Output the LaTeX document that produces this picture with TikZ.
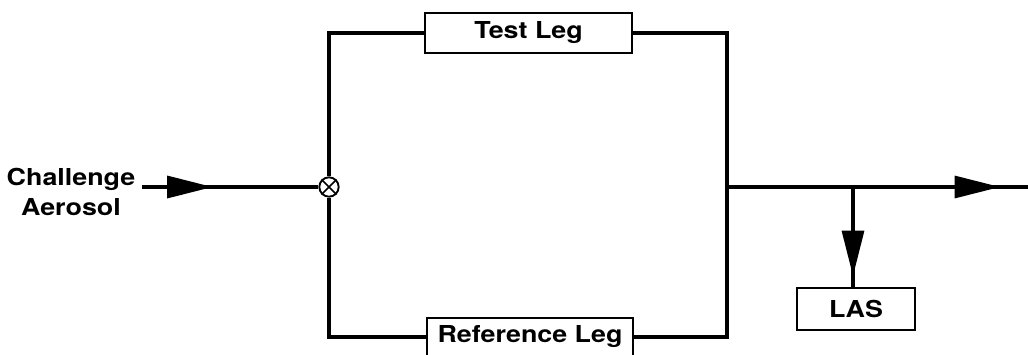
\documentclass[tikz,border=0pt]{standalone}
\usepackage{fontspec}
\setmainfont{TeX Gyre Heros}[FakeStretch=1.15]
\usetikzlibrary{arrows.meta,decorations.markings}

\begin{document}
\begin{tikzpicture}[x=0.75pt,y=-0.75pt,
    label/.style={font=\bfseries\fontsize{17.5}{22}\selectfont},
    leg/.style={label,draw,line width=1.5pt,fill=white,inner sep=0pt},
    junction/.style={circle,draw,line width=1.4pt,fill=white,inner sep=0pt,minimum size=14.5pt},
    pipe/.style={line width=2.3pt},
    midarrow/.style={postaction={decorate,decoration={markings,
        mark=at position #1 with {\arrow{Triangle[length=34pt,width=16.5pt]}}}}}]
  \useasboundingbox (0,0) rectangle (1028,354);

  \node[label,align=center] (src) at (71,192) {Challenge\\Aerosol};
  \node[junction] (mix) at (329,187) {};
  \draw[line width=1.3pt] (mix.45) -- (mix.225) (mix.135) -- (mix.315);

  \node[leg,minimum width=155pt,minimum height=30pt] (test) at (528.5,33) {Test Leg};
  \node[leg,minimum width=154.5pt,minimum height=28.5pt] (ref) at (530,337) {Reference Leg};
  \node[leg,minimum width=88.5pt,minimum height=31.5pt] (las) at (856,309) {LAS};

  \coordinate (in) at (142,187);
  \coordinate (tl) at (329,33);
  \coordinate (tr) at (727,33);
  \coordinate (br) at (727,337);
  \coordinate (bl) at (329,337);
  \coordinate (split) at (727,187);
  \coordinate (tap) at (853,187);
  \coordinate (out) at (1028,187);

  \draw[pipe,midarrow=0.4] (in) -- (mix);
  \draw[pipe] (mix) -- (tl) -- (test);
  \draw[pipe] (test) -- (tr) -- (br) -- (ref);
  \draw[pipe] (ref) -- (bl) -- (mix);
  \draw[pipe,midarrow=0.907] (split) -- (out);
  \draw[pipe,midarrow=0.89] (tap) -- (tap |- las.north);
\end{tikzpicture}
\end{document}
